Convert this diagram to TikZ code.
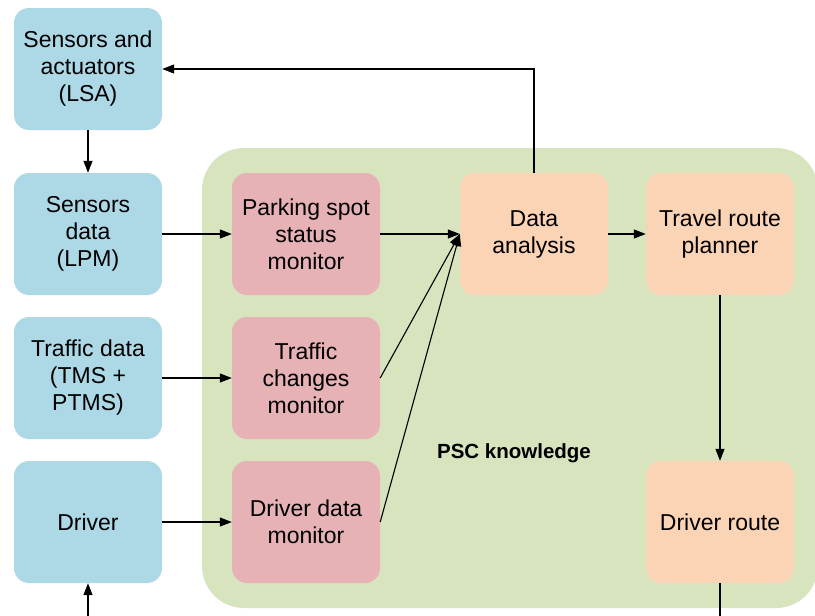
\documentclass[tikz,border=0pt]{standalone}
\usepackage{fontspec}
\setmainfont{Liberation Sans}
\usetikzlibrary{arrows.meta}

\definecolor{boxblue}{RGB}{173,216,230}
\definecolor{boxpink}{RGB}{230,178,182}
\definecolor{boxorange}{RGB}{251,212,182}
\definecolor{pscgreen}{RGB}{215,228,190}

\begin{document}
\begin{tikzpicture}[x=1pt,y=1pt,yscale=-1,xscale=1,
  box/.style={rounded corners=15pt,minimum width=148pt,minimum height=122pt,
    inner sep=0.75pt,align=center,font=\fontsize{23}{27}\selectfont},
  srcbox/.style={box,fill=boxblue},
  monbox/.style={box,fill=boxpink},
  resbox/.style={box,fill=boxorange},
  arr/.style={-{Triangle[length=12pt,width=9pt]},line width=1.1pt}]
  \useasboundingbox (0,0) rectangle (815,616);
  \clip (0,0) rectangle (815,616);

  %PSC area
  \fill [pscgreen, rounded corners=42pt] (202,148) rectangle (818,608);
  % Text Node
  \node (psc) at (514,453) {\fontsize{20.5}{24}\selectfont\bfseries PSC knowledge};

  %Sources
  \node [srcbox] (lsa) at (88,69) {Sensors and\\actuators\\(LSA)};
  \node [srcbox] (lpm) at (88,234) {Sensors\\data\\(LPM)};
  \node [srcbox] (tms) at (88,378) {Traffic data\\(TMS +\\PTMS)};
  \node [srcbox] (drv) at (88,522) {Driver};

  %Monitors
  \node [monbox] (psm) at (306,234) {Parking spot\\status\\monitor};
  \node [monbox] (tcm) at (306,378) {Traffic\\changes\\monitor};
  \node [monbox] (ddm) at (306,522) {Driver data\\monitor};

  %Analysis and routes
  \node [resbox] (dan) at (534,234) {Data\\analysis};
  \node [resbox] (trp) at (720,234) {Travel route\\planner};
  \node [resbox] (drt) at (720,522) {Driver route};

  \coordinate (drvin) at (88,630);
  \coordinate (drtout) at (720,630);

  %Straight Lines
  \draw [arr] (lsa) -- (lpm);
  \draw [arr] (lpm) -- (psm);
  \draw [arr] (tms) -- (tcm);
  \draw [arr] (drv) -- (ddm);
  \draw [arr] (psm) -- (dan.west);
  \draw [arr] (tcm.east) -- (dan.west);
  \draw [arr] (ddm.east) -- (dan.west);
  \draw [arr] (dan) -- (trp);
  \draw [arr] (trp) -- (drt);
  \draw [arr] (dan.north) |- (lsa.east);
  \draw [arr] (drvin) -- (drv);
  \draw [line width=1.1pt] (drt) -- (drtout);

\end{tikzpicture}
\end{document}
